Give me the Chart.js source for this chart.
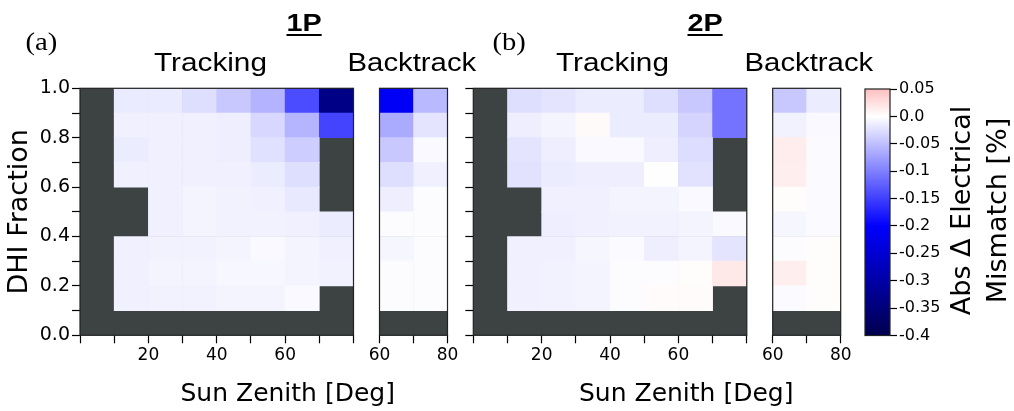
<!DOCTYPE html>
<html>
<head>
<meta charset="utf-8">
<script src="https://cdn.jsdelivr.net/npm/chart.js@4.4.1/dist/chart.umd.min.js"></script>
<style>
  html, body { margin: 0; padding: 0; background: #fff; }
  #wrap { position: relative; width: 1014px; height: 411px; overflow: hidden; background: #fff; }
  #wrap canvas { position: absolute; left: 0; top: 0; }
  .lbl { position: absolute; white-space: nowrap; line-height: 1; color: #000; transform-origin: center center; }
</style>
</head>
<body>
<div id="wrap"></div>
<script>
// ---- axis definitions ----
const zenithTicks = [0, 10, 20, 30, 40, 50, 60, 70, 80];
const zenithTickLabels = ['', '', '20', '', '40', '', '60', '', ''];
const backtrackTicks = [60, 70, 80];
const backtrackTickLabels = ['60', '', '80'];
const dhiTicks = [0, 0.1, 0.2, 0.3, 0.4, 0.5, 0.6, 0.7, 0.8, 0.9, 1.0];
const dhiTickLabels = ['0.0', '', '0.2', '', '0.4', '', '0.6', '', '0.8', '', '1.0'];
const cbarTicks = [-0.4, -0.35, -0.3, -0.25, -0.2, -0.15, -0.1, -0.05, 0, 0.05];
const cbarTickLabels = ['-0.4', '-0.35', '-0.3', '-0.25', '-0.2', '-0.15', '-0.1', '-0.05', '0.0', '0.05'];

// bin centres (sun zenith, deg) and DHI-fraction bin edges
const trackZenith = [5, 15, 25, 35, 45, 55, 65, 75];
const backtrackZenith = [65, 75];
const dhiLower = [0.0, 0.1, 0.2, 0.3, 0.4, 0.5, 0.6, 0.7, 0.8, 0.9];
const dhiUpper = [0.1, 0.2, 0.3, 0.4, 0.5, 0.6, 0.7, 0.8, 0.9, 1.0];

// ---- abs. change in electrical mismatch [%]; rows run from DHI 0.0-0.1 up to 0.9-1.0, null = no data ----
const track1P = [
  [null, null,   null,   null,   null,   null,   null,   null],
  [null, -0.012, -0.010, -0.010, -0.009, -0.009, -0.005, null],
  [null, -0.012, -0.009, -0.009, -0.006, -0.006, -0.009, -0.010],
  [null, -0.012, -0.010, -0.010, -0.009, -0.005, -0.009, -0.012],
  [null, null,   -0.012, -0.009, -0.010, -0.010, -0.012, -0.015],
  [null, null,   -0.012, -0.009, -0.010, -0.012, -0.018, null],
  [null, -0.012, -0.012, -0.012, -0.012, -0.015, -0.026, null],
  [null, -0.015, -0.012, -0.012, -0.013, -0.024, -0.039, null],
  [null, -0.012, -0.012, -0.012, -0.013, -0.031, -0.059, -0.147],
  [null, -0.016, -0.016, -0.026, -0.043, -0.060, -0.141, -0.334]
];
const backtrack1P = [
  [null, null],
  [-0.002, -0.002],
  [-0.002, -0.002],
  [-0.007, -0.002],
  [-0.002, -0.002],
  [-0.013, -0.002],
  [-0.026, -0.012],
  [-0.043, -0.005],
  [-0.067, -0.021],
  [-0.210, -0.055]
];
const track2P = [
  [null, null,   null,   null,   null,   null,   null,   null],
  [null, -0.012, -0.010, -0.009, -0.002,  0.003,  0.003, null],
  [null, -0.012, -0.010, -0.009, -0.002, -0.002,  0.002,  0.018],
  [null, -0.012, -0.012, -0.007, -0.004, -0.013, -0.009, -0.021],
  [null, null,   -0.013, -0.012, -0.010, -0.010, -0.009, -0.005],
  [null, null,   -0.012, -0.012, -0.009, -0.009, -0.005, null],
  [null, -0.023, -0.015, -0.013, -0.013, -0.001, -0.023, null],
  [null, -0.021, -0.013, -0.005, -0.005, -0.013, -0.027, null],
  [null, -0.013, -0.009,  0.004, -0.015, -0.015, -0.034, -0.110],
  [null, -0.026, -0.021, -0.015, -0.015, -0.026, -0.043, -0.110]
];
const backtrack2P = [
  [null, null],
  [-0.004,  0.002],
  [ 0.013,  0.002],
  [-0.002,  0.002],
  [-0.007, -0.004],
  [ 0.002, -0.004],
  [ 0.013, -0.004],
  [ 0.015, -0.004],
  [-0.010, -0.005],
  [-0.043, -0.015]
];

// ---- colour map (blue - white - red, symmetric about zero) ----
const NORM_LIMIT = 0.4;
const cmapNodes = [[0, 0, 0.3], [0, 0, 1], [1, 1, 1], [1, 0, 0], [0.5, 0, 0]];
function seismicRGB(v) {
  let t = (v + NORM_LIMIT) / (2 * NORM_LIMIT);
  t = Math.max(0, Math.min(1, t));
  const p = t * (cmapNodes.length - 1);
  const i = Math.min(cmapNodes.length - 2, Math.floor(p));
  const f = p - i;
  return cmapNodes[i].map((c, k) => Math.round(255 * (c + f * (cmapNodes[i + 1][k] - c))));
}
function seismic(v) {
  const [r, g, b] = seismicRGB(v);
  return `rgb(${r},${g},${b})`;
}
const NAN_COLOR = '#3d4242';
const FRAME_COLOR = '#222';

Chart.defaults.font.family = '"DejaVu Sans", sans-serif';
Chart.defaults.color = '#000';

const W = 1014, H = 411;
const PLOT_TOP = 88.3, PLOT_BOTTOM = 335.3;
const wrap = document.getElementById('wrap');

function newCanvas() {
  const c = document.createElement('canvas');
  c.width = W; c.height = H;
  c.style.width = W + 'px'; c.style.height = H + 'px';
  wrap.appendChild(c);
  return c;
}

// dark background for empty bins plus a frame round the plot area
const framePlugin = {
  id: 'heatFrame',
  beforeDatasetsDraw(chart) {
    const { ctx, chartArea: a } = chart;
    ctx.save();
    ctx.fillStyle = NAN_COLOR;
    ctx.fillRect(a.left, a.top, a.right - a.left, a.bottom - a.top);
    ctx.restore();
  },
  afterDatasetsDraw(chart) {
    const { ctx, chartArea: a } = chart;
    ctx.save();
    ctx.strokeStyle = FRAME_COLOR;
    ctx.lineWidth = 1.2;
    ctx.strokeRect(a.left, a.top, a.right - a.left, a.bottom - a.top);
    ctx.restore();
  }
};

function rowsToDatasets(values, centres) {
  return values.map((row, r) => ({
    label: 'DHI ' + dhiLower[r].toFixed(1),
    data: row
      .map((v, c) => (v === null ? null : { x: centres[c], y: [dhiLower[r], dhiUpper[r]], v }))
      .filter(p => p !== null),
    backgroundColor: ctx => (ctx.raw ? seismic(ctx.raw.v) : 'rgba(0,0,0,0)'),
    borderWidth: 0,
    grouped: false,
    barPercentage: 1,
    categoryPercentage: 1
  }));
}

function heatmap(cfg) {
  const yAxisWidth = cfg.yAxisWidth;
  new Chart(newCanvas(), {
    type: 'bar',
    data: { datasets: rowsToDatasets(cfg.values, cfg.centres) },
    options: {
      responsive: false,
      animation: false,
      events: [],
      layout: { padding: { left: cfg.left - (cfg.showY ? yAxisWidth : 0), right: W - cfg.right, top: PLOT_TOP, bottom: 0 } },
      plugins: { legend: { display: false }, tooltip: { enabled: false } },
      scales: {
        x: {
          type: 'linear',
          min: cfg.xTicks[0],
          max: cfg.xTicks[cfg.xTicks.length - 1],
          offset: false,
          afterBuildTicks: s => { s.ticks = cfg.xTicks.map(v => ({ value: v })); },
          afterFit: s => { s.height = H - PLOT_BOTTOM; },
          ticks: {
            autoSkip: false, maxRotation: 0, padding: 2,
            font: { size: 17 }, color: '#000',
            callback: (v, i) => cfg.xTickLabels[i]
          },
          grid: { offset: false, drawOnChartArea: false, drawTicks: true, tickLength: 8, tickColor: '#000', tickWidth: 1.2 },
          border: { display: false }
        },
        y: {
          type: 'linear',
          display: cfg.showY,
          min: 0, max: 1,
          afterBuildTicks: s => { s.ticks = dhiTicks.map(v => ({ value: v })); },
          afterFit: s => { s.width = yAxisWidth; },
          ticks: {
            autoSkip: false, padding: 2,
            font: { size: 19 }, color: '#000',
            callback: (v, i) => (cfg.yLabels ? dhiTickLabels[i] : '')
          },
          grid: { drawOnChartArea: false, drawTicks: true, tickLength: 8, tickColor: '#000', tickWidth: 1.2 },
          border: { display: false },
          title: {
            display: !!cfg.yTitle,
            text: cfg.yTitle || '',
            color: '#000',
            font: { size: 27 },
            padding: { top: 4, bottom: 0 }
          }
        }
      }
    },
    plugins: [framePlugin]
  });
}

// panel (a) 1P and (b) 2P: tracking + backtracking
heatmap({ values: track1P, centres: trackZenith, xTicks: zenithTicks, xTickLabels: zenithTickLabels,
          left: 80, right: 353.5, showY: true, yLabels: true, yAxisWidth: 80, yTitle: 'DHI Fraction' });
heatmap({ values: backtrack1P, centres: backtrackZenith, xTicks: backtrackTicks, xTickLabels: backtrackTickLabels,
          left: 379.5, right: 447.5, showY: false, yAxisWidth: 0 });
heatmap({ values: track2P, centres: trackZenith, xTicks: zenithTicks, xTickLabels: zenithTickLabels,
          left: 473.3, right: 746.8, showY: true, yLabels: false, yAxisWidth: 12 });
heatmap({ values: backtrack2P, centres: backtrackZenith, xTicks: backtrackTicks, xTickLabels: backtrackTickLabels,
          left: 772.7, right: 840.7, showY: false, yAxisWidth: 0 });

// ---- colour bar ----
const cbarMin = cbarTicks[0], cbarMax = cbarTicks[cbarTicks.length - 1];
const colorbarPlugin = {
  id: 'colorbarRamp',
  beforeDatasetsDraw(chart) {
    const { ctx, chartArea: a, scales: { y } } = chart;
    const y0 = y.getPixelForValue(cbarMin), y1 = y.getPixelForValue(cbarMax);
    const grad = ctx.createLinearGradient(0, y0, 0, y1);
    const stops = [cbarMin, -NORM_LIMIT / 2, 0, cbarMax];
    stops.forEach(v => grad.addColorStop((v - cbarMin) / (cbarMax - cbarMin), seismic(v)));
    ctx.save();
    ctx.fillStyle = grad;
    ctx.fillRect(a.left, a.top, a.right - a.left, a.bottom - a.top);
    ctx.strokeStyle = FRAME_COLOR;
    ctx.lineWidth = 1.2;
    ctx.strokeRect(a.left, a.top, a.right - a.left, a.bottom - a.top);
    ctx.restore();
  }
};
new Chart(newCanvas(), {
  type: 'bar',
  data: { labels: [''], datasets: [] },
  options: {
    responsive: false,
    animation: false,
    events: [],
    layout: { padding: { left: 865, right: 0, top: 89, bottom: H - 335.5 } },
    plugins: { legend: { display: false }, tooltip: { enabled: false } },
    scales: {
      x: { display: false },
      y: {
        type: 'linear',
        position: 'right',
        min: cbarMin, max: cbarMax,
        afterBuildTicks: s => { s.ticks = cbarTicks.map(v => ({ value: v })); },
        afterFit: s => { s.width = W - 890; },
        ticks: { autoSkip: false, padding: 2, font: { size: 16 }, color: '#000',
                 callback: (v, i) => cbarTickLabels[i] },
        grid: { drawOnChartArea: false, drawTicks: true, tickLength: 7, tickColor: '#000', tickWidth: 1.2 },
        border: { display: false }
      }
    }
  },
  plugins: [colorbarPlugin]
});

// ---- titles and labels ----
function addLabel(text, cx, cy, font, opts = {}) {
  const d = document.createElement('div');
  d.className = 'lbl';
  d.textContent = text;
  d.style.font = font;
  if (opts.underline) {
    d.style.textDecoration = 'underline';
    d.style.textDecorationThickness = '2px';
    d.style.textUnderlineOffset = '3px';
  }
  wrap.appendChild(d);
  const w = d.offsetWidth, h = d.offsetHeight;
  d.style.left = (cx - w / 2) + 'px';
  d.style.top = (cy - h / 2) + 'px';
  let tf = '';
  if (opts.rotate) tf += `rotate(${opts.rotate}deg) `;
  if (opts.width) tf += `scaleX(${opts.width / w})`;
  d.style.transform = tf;
  return d;
}
const SERIF = '26px/1 "Liberation Serif", serif';
const SANS = '25px/1 "Liberation Sans", sans-serif';
const BOLD = 'bold 23px/1 "Liberation Sans", sans-serif';
const AXIS = '25px/1 "DejaVu Sans", sans-serif';
const CBAR = '27px/1 "DejaVu Sans", sans-serif';

addLabel('(a)', 41, 42, SERIF, { width: 32 });
addLabel('1P', 303.5, 23, BOLD, { width: 35, underline: true });
addLabel('Tracking', 210.5, 62.5, SANS, { width: 113 });
addLabel('Backtrack', 411.5, 62.5, SANS, { width: 129 });
addLabel('(b)', 508.5, 42, SERIF, { width: 33 });
addLabel('2P', 704.5, 23, BOLD, { width: 35, underline: true });
addLabel('Tracking', 612, 62.5, SANS, { width: 113 });
addLabel('Backtrack', 809, 62.5, SANS, { width: 129 });
addLabel('Sun Zenith [Deg]', 287.5, 392.3, AXIS);
addLabel('Sun Zenith [Deg]', 686, 392.3, AXIS);
addLabel('Abs \u0394 Electrical', 960, 210, CBAR, { rotate: -90 });
addLabel('Mismatch [%]', 997, 210, CBAR, { rotate: -90 });
</script>
</body>
</html>
